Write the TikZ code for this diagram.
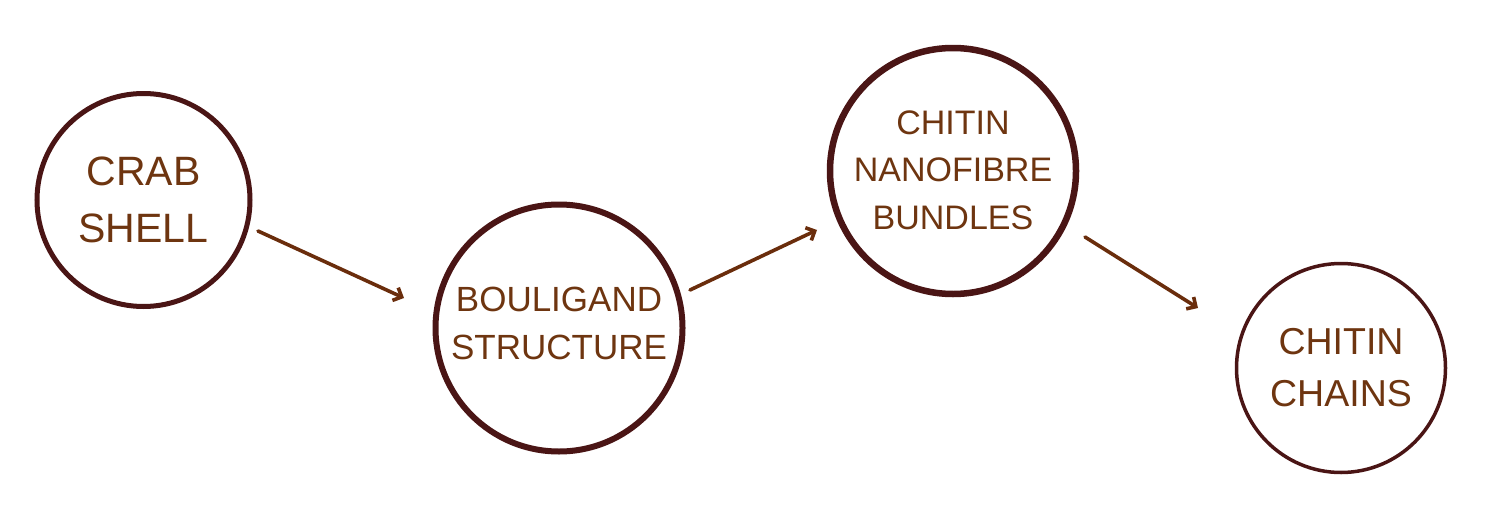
\documentclass[tikz,border=0pt]{standalone}
\usepackage{fontspec}
\setmainfont{Liberation Sans}
\usetikzlibrary{arrows.meta}
\definecolor{ring}{HTML}{4A1515}
\definecolor{txt}{HTML}{6E3510}
\definecolor{arr}{HTML}{6A2D0C}
\tikzset{
  ringnode/.style={circle, draw=ring, inner sep=0pt, fill=white},
  label/.style={text=txt, align=center, inner sep=0pt},
  flow/.style={draw=arr, line width=3.6pt, line cap=round,
    -{Straight Barb[length=7pt, width=14pt, line width=3.6pt]}}
}
\begin{document}
\begin{tikzpicture}[x=1pt, y=-1pt]
\useasboundingbox[fill=white] (0,0) rectangle (1486,522);
% circles
\node[ringnode, line width=5pt, minimum size=213pt] (c1) at (143.5,200) {};
\node[ringnode, line width=6pt, minimum size=247pt] (c2) at (559,328) {};
\node[ringnode, line width=6.5pt, minimum size=246pt] (c3) at (953,171) {};
\node[ringnode, line width=3.5pt, minimum size=209pt] (c4) at (1341,368) {};
% texts
\node[label, font=\fontsize{41}{57}\selectfont] (t1) at (143.5,199.5) {CRAB\\SHELL};
\node[label, font=\fontsize{35}{48}\selectfont] (t2) at (559,323) {BOULIGAND\\STRUCTURE};
\node[label, font=\fontsize{34}{47.5}\selectfont] (t3) at (953,170) {CHITIN\\NANOFIBRE\\BUNDLES};
\node[label, font=\fontsize{37.5}{52}\selectfont] (t4) at (1341,368) {CHITIN\\CHAINS};
% arrow ends
\coordinate (a1s) at (258,231);
\coordinate (a1e) at (404,298);
\coordinate (a2s) at (690,290);
\coordinate (a2e) at (817,230);
\coordinate (a3s) at (1085,237);
\coordinate (a3e) at (1198,308);
\draw[flow] (a1s) -- (a1e);
\draw[flow] (a2s) -- (a2e);
\draw[flow] (a3s) -- (a3e);
\end{tikzpicture}
\end{document}
